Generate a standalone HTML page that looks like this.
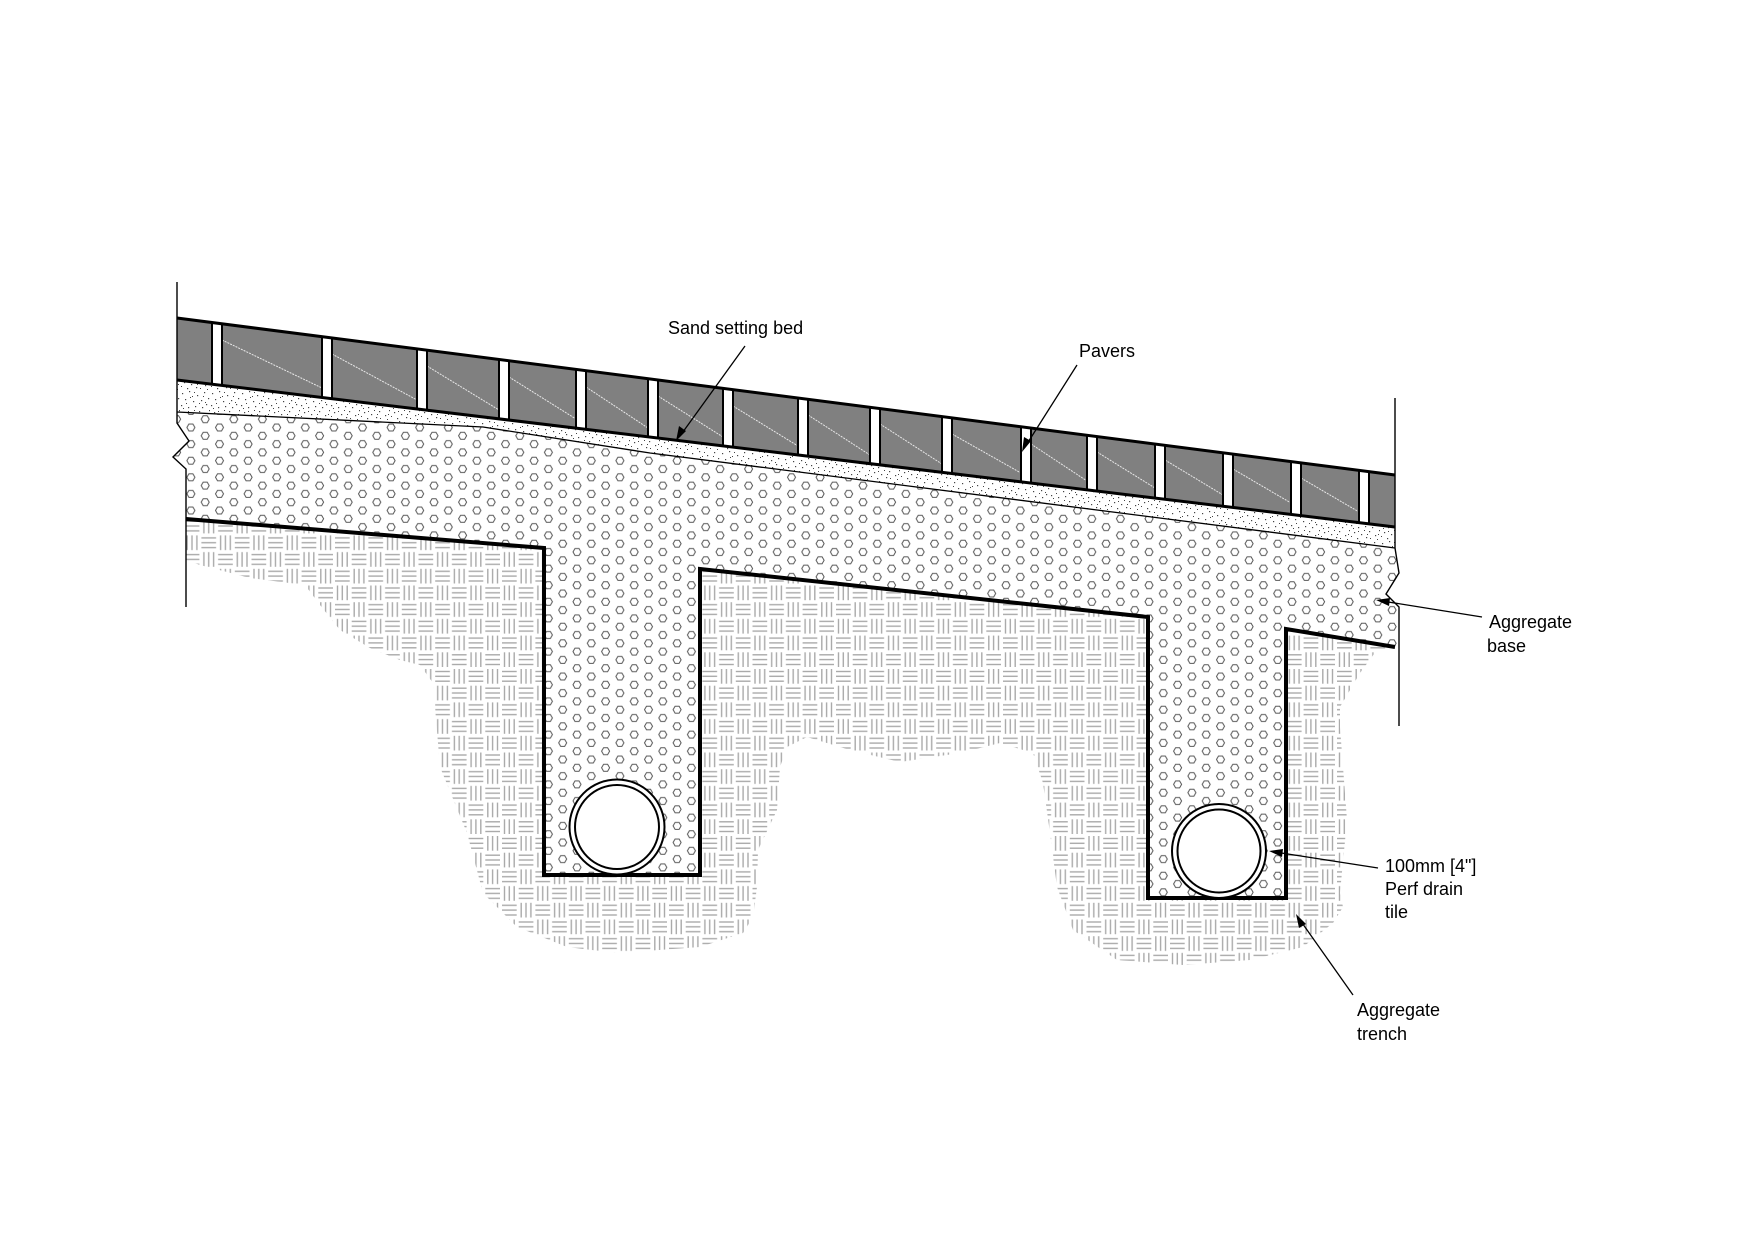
<!DOCTYPE html>
<html><head><meta charset="utf-8"><style>
html,body{margin:0;padding:0;background:#fff;}
svg{display:block;}
text{font-family:"Liberation Sans",Arial,sans-serif;font-size:18px;fill:#000;}
</style></head><body>
<svg width="1755" height="1240" viewBox="0 0 1755 1240" xmlns="http://www.w3.org/2000/svg">
<defs>
<pattern id="hex" width="28.6" height="16.6" patternUnits="userSpaceOnUse">
<g fill="none" stroke="#555" stroke-width="1">
<polygon points="-4,0 -2,-3.5 2,-3.5 4,0 2,3.5 -2,3.5" transform="translate(5,4.2)"/>
<polygon points="-4,0 -2,-3.5 2,-3.5 4,0 2,3.5 -2,3.5" transform="translate(33.6,4.2)"/>
<polygon points="-4,0 -2,-3.5 2,-3.5 4,0 2,3.5 -2,3.5" transform="translate(19.3,12.5)"/>
<polygon points="-4,0 -2,-3.5 2,-3.5 4,0 2,3.5 -2,3.5" transform="translate(-9.3,12.5)"/>
<polygon points="-4,0 -2,-3.5 2,-3.5 4,0 2,3.5 -2,3.5" transform="translate(19.3,-4.1)"/>
<polygon points="-4,0 -2,-3.5 2,-3.5 4,0 2,3.5 -2,3.5" transform="translate(5,20.8)"/>
</g>
</pattern>
<pattern id="weave" width="33.4" height="33.4" patternUnits="userSpaceOnUse">
<rect width="33.4" height="33.4" fill="#fff"/>
<g stroke="#aaa" stroke-width="1.4">
<line x1="1" y1="3.5" x2="15.7" y2="3.5"/><line x1="1" y1="8.3" x2="15.7" y2="8.3"/><line x1="1" y1="13.2" x2="15.7" y2="13.2"/>
<line x1="20.2" y1="1" x2="20.2" y2="15.7"/><line x1="25" y1="1" x2="25" y2="15.7"/><line x1="29.9" y1="1" x2="29.9" y2="15.7"/>
<line x1="3.5" y1="17.7" x2="3.5" y2="32.4"/><line x1="8.3" y1="17.7" x2="8.3" y2="32.4"/><line x1="13.2" y1="17.7" x2="13.2" y2="32.4"/>
<line x1="17.7" y1="20.2" x2="32.4" y2="20.2"/><line x1="17.7" y1="25" x2="32.4" y2="25"/><line x1="17.7" y1="29.9" x2="32.4" y2="29.9"/>
</g>
</pattern>
<pattern id="sand" width="30" height="30" patternUnits="userSpaceOnUse">
<rect width="30" height="30" fill="#fff"/>
<g fill="#444">
<rect x="2" y="3" width="1.2" height="1.2"/><rect x="9" y="1" width="1.2" height="1.2"/><rect x="17" y="5" width="1.2" height="1.2"/><rect x="24" y="2" width="1.2" height="1.2"/>
<rect x="5" y="9" width="1.2" height="1.2"/><rect x="13" y="11" width="1.2" height="1.2"/><rect x="21" y="10" width="1.2" height="1.2"/><rect x="28" y="8" width="1.2" height="1.2"/>
<rect x="1" y="15" width="1.2" height="1.2"/><rect x="8" y="17" width="1.2" height="1.2"/><rect x="15" y="16" width="1.2" height="1.2"/><rect x="26" y="14" width="1.2" height="1.2"/>
<rect x="4" y="22" width="1.2" height="1.2"/><rect x="11" y="24" width="1.2" height="1.2"/><rect x="19" y="21" width="1.2" height="1.2"/><rect x="25" y="25" width="1.2" height="1.2"/>
<rect x="7" y="28" width="1.2" height="1.2"/><rect x="16" y="27" width="1.2" height="1.2"/><rect x="22" y="17" width="1.2" height="1.2"/><rect x="29" y="20" width="1.2" height="1.2"/>
<rect x="12" y="6" width="1" height="1"/><rect x="27" y="29" width="1" height="1"/><rect x="1" y="26" width="1" height="1"/>
<rect x="6" y="13" width="1" height="1"/><rect x="19" y="13" width="1" height="1"/><rect x="14" y="20" width="1" height="1"/><rect x="23" y="6" width="1" height="1"/>
<rect x="3" y="18" width="1" height="1"/><rect x="10" y="7" width="1" height="1"/><rect x="28" y="24" width="1" height="1"/><rect x="20" y="28" width="1" height="1"/>
<rect x="14" y="2" width="1" height="1"/><rect x="8" y="21" width="1" height="1"/><rect x="25" y="12" width="1" height="1"/><rect x="17" y="24" width="1" height="1"/>
</g>
</pattern>
</defs>

<path fill="url(#weave)" d="M186,519 L544,548 L700,569 L1148,617 L1286,629 L1395,647 L1377,650 L1360,673 L1340,707 L1340,727 L1347,820 L1340,893 L1343,907 L1333,923 L1303,947 L1250,960 L1183,965 L1117,960 L1073,930 L1057,887 L1050,833 L1043,783 L1033,753 L1000,743 L960,753 L900,762 L850,750 L807,737 L787,747 L780,767 L777,810 L758,850 L757,887 L753,917 L743,933 L700,947 L617,953 L567,947 L517,927 L483,893 L467,833 L440,767 L433,683 L420,665 L400,660 L370,648 L340,630 L320,605 L305,585 L250,578 L200,565 L186,560 Z"/>

<path fill="#fff" d="M177,412 L483,427 L650,453 L1395,548 L1399,573 L1386,594 L1399,607 L1399,648 L1286,629 L1286,898 L1148,898 L1148,617 L700,569 L700,875 L544,875 L544,548 L186,519 L186,469 L173,457 L189,441 L177,423 Z"/>
<path fill="url(#hex)" d="M177,412 L483,427 L650,453 L1395,548 L1399,573 L1386,594 L1399,607 L1399,648 L1286,629 L1286,898 L1148,898 L1148,617 L700,569 L700,875 L544,875 L544,548 L186,519 L186,469 L173,457 L189,441 L177,423 Z"/>

<path fill="url(#sand)" d="M177,380 L1395,527 L1395,548 L650,453 L483,427 L177,412 Z"/>
<path fill="none" stroke="#000" stroke-width="1.3" d="M177,412 L483,427 L650,453 L1395,548"/>

<path fill="#808080" d="M177,318 L1395,475 L1395,527 L177,380 Z"/>
<g stroke="#e8e8e8" stroke-width="1" fill="none" stroke-dasharray="2,1">
<line x1="222" y1="340" x2="322" y2="388"/><line x1="332" y1="354" x2="417" y2="400"/><line x1="427" y1="366" x2="499" y2="410"/>
<line x1="509" y1="377" x2="576" y2="419"/><line x1="586" y1="387" x2="648" y2="428"/><line x1="658" y1="396" x2="723" y2="437"/>
<line x1="733" y1="406" x2="798" y2="446"/><line x1="808" y1="415" x2="870" y2="455"/><line x1="880" y1="424" x2="942" y2="464"/>
<line x1="952" y1="434" x2="1021" y2="473"/><line x1="1031" y1="444" x2="1087" y2="481"/><line x1="1097" y1="452" x2="1155" y2="488"/>
<line x1="1165" y1="460" x2="1223" y2="495"/><line x1="1233" y1="469" x2="1291" y2="503"/><line x1="1301" y1="478" x2="1359" y2="512"/>
</g>
<g fill="#fff" stroke="#000" stroke-width="2">
<path d="M212,322.5 L222,323.8 L222,385.4 L212,384.2 Z"/>
<path d="M322,336.7 L332,338 L332,398.7 L322,397.5 Z"/>
<path d="M417,348.9 L427,350.2 L427,410.2 L417,409 Z"/>
<path d="M499,359.5 L509,360.8 L509,420.1 L499,418.9 Z"/>
<path d="M576,369.4 L586,370.7 L586,429.4 L576,428.2 Z"/>
<path d="M648,378.7 L658,380 L658,438.1 L648,436.8 Z"/>
<path d="M723,388.4 L733,389.7 L733,447.1 L723,445.9 Z"/>
<path d="M798,398 L808,399.3 L808,456.2 L798,455 Z"/>
<path d="M870,407.3 L880,408.6 L880,464.9 L870,463.6 Z"/>
<path d="M942,416.6 L952,417.9 L952,473.5 L942,472.3 Z"/>
<path d="M1021,426.8 L1031,428.1 L1031,483.1 L1021,481.9 Z"/>
<path d="M1087,435.3 L1097,436.6 L1097,491 L1087,489.8 Z"/>
<path d="M1155,444.1 L1165,445.4 L1165,499.3 L1155,498 Z"/>
<path d="M1223,452.8 L1233,454.1 L1233,507.5 L1223,506.3 Z"/>
<path d="M1291,461.6 L1301,462.9 L1301,515.7 L1291,514.5 Z"/>
<path d="M1359,470.4 L1369,471.7 L1369,523.9 L1359,522.7 Z"/>
</g>
<path fill="none" stroke="#000" stroke-width="3" d="M177,318 L1395,475"/>
<path fill="none" stroke="#000" stroke-width="3" d="M177,380 L1395,527"/>

<path fill="none" stroke="#000" stroke-width="1.4" d="M177,282 L177,423 L189,441 L173,457 L186,469 L186,607"/>
<path fill="none" stroke="#000" stroke-width="1.4" d="M1395,398 L1395,548 L1399,573 L1386,594 L1399,607 L1399,726"/>

<path fill="none" stroke="#000" stroke-width="4" d="M186,519 L544,548 L544,875 L700,875 L700,569 L1148,617 L1148,898 L1286,898 L1286,629 L1395,647"/>

<g fill="#fff" stroke="#000" stroke-width="2">
<circle cx="617" cy="827" r="47.5"/><circle cx="617" cy="827" r="42"/>
<circle cx="1219" cy="851" r="47"/><circle cx="1219" cy="851" r="41.5"/>
</g>

<g stroke="#000" stroke-width="1.3" fill="none">
<line x1="745" y1="346" x2="680" y2="436"/>
<line x1="1077" y1="365" x2="1025" y2="447"/>
<line x1="1482" y1="617" x2="1382" y2="601"/>
<line x1="1378" y1="868" x2="1275" y2="852"/>
<line x1="1353" y1="995" x2="1300" y2="920"/>
</g>
<g fill="#000">
<polygon points="676,441 679,426 686,431"/>
<polygon points="1022,452 1024,437 1031,441"/>
<polygon points="1376,600 1390,598 1389,606"/>
<polygon points="1269,851 1283,849 1282,857"/>
<polygon points="1296,914 1306,924 1299,928"/>
</g>

<text x="668" y="334">Sand setting bed</text>
<text x="1079" y="357">Pavers</text>
<text x="1489" y="628">Aggregate</text>
<text x="1487" y="652">base</text>
<text x="1385" y="872">100mm [4"]</text>
<text x="1385" y="895">Perf drain</text>
<text x="1385" y="918">tile</text>
<text x="1357" y="1016">Aggregate</text>
<text x="1357" y="1040">trench</text>
</svg>
</body></html>
